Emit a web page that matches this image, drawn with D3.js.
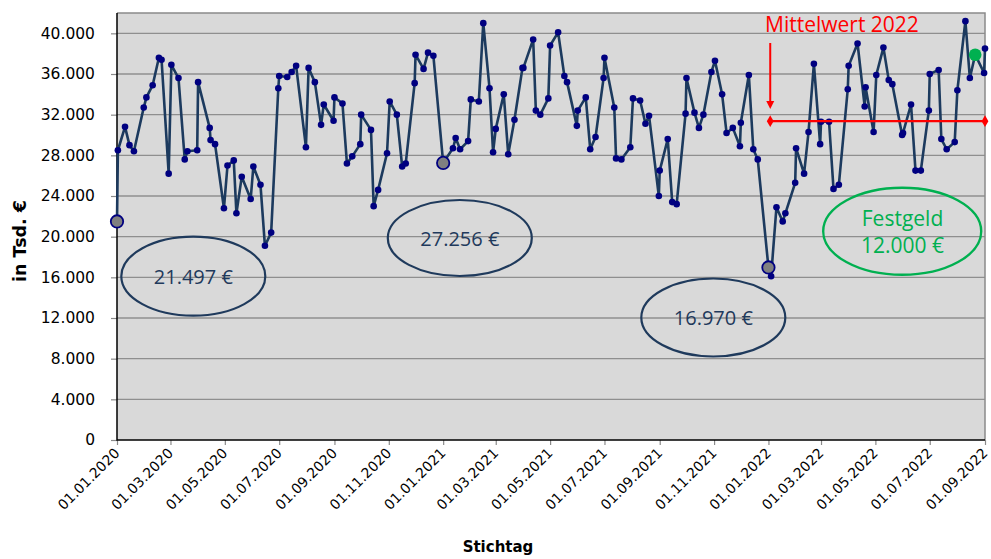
<!DOCTYPE html>
<html><head><meta charset="utf-8">
<script src="https://cdn.jsdelivr.net/npm/d3@7"></script>
<style>
body{margin:0;background:#fff;}
svg{display:block;}
</style></head>
<body><svg id="c" width="991" height="559"></svg>
<script>
const dates = ["2020-01-01","2020-01-02","2020-01-10","2020-01-15","2020-01-20","2020-01-31","2020-02-03","2020-02-10","2020-02-17","2020-02-20","2020-02-28","2020-03-02","2020-03-10","2020-03-17","2020-03-20","2020-03-31","2020-04-01","2020-04-14","2020-04-15","2020-04-20","2020-04-30","2020-05-04","2020-05-11","2020-05-14","2020-05-20","2020-05-30","2020-06-02","2020-06-10","2020-06-15","2020-06-22","2020-06-30","2020-07-01","2020-07-10","2020-07-15","2020-07-20","2020-07-31","2020-08-03","2020-08-10","2020-08-17","2020-08-20","2020-08-31","2020-09-01","2020-09-10","2020-09-15","2020-09-21","2020-09-30","2020-10-01","2020-10-12","2020-10-15","2020-10-20","2020-10-30","2020-11-02","2020-11-10","2020-11-16","2020-11-20","2020-11-30","2020-12-01","2020-12-10","2020-12-15","2020-12-21","2021-01-01","2021-01-12","2021-01-15","2021-01-20","2021-01-29","2021-02-01","2021-02-10","2021-02-15","2021-02-22","2021-02-26","2021-03-01","2021-03-10","2021-03-15","2021-03-22","2021-03-31","2021-04-01","2021-04-12","2021-04-15","2021-04-20","2021-04-29","2021-05-01","2021-05-10","2021-05-17","2021-05-20","2021-05-31","2021-06-01","2021-06-10","2021-06-15","2021-06-21","2021-06-30","2021-07-01","2021-07-12","2021-07-14","2021-07-20","2021-07-30","2021-08-02","2021-08-10","2021-08-16","2021-08-20","2021-08-31","2021-09-01","2021-09-10","2021-09-15","2021-09-20","2021-09-30","2021-10-01","2021-10-10","2021-10-15","2021-10-20","2021-10-29","2021-11-02","2021-11-10","2021-11-15","2021-11-22","2021-11-30","2021-12-01","2021-12-10","2021-12-15","2021-12-20","2022-01-01","2022-01-04","2022-01-10","2022-01-17","2022-01-20","2022-01-31","2022-02-01","2022-02-10","2022-02-15","2022-02-21","2022-02-28","2022-03-01","2022-03-10","2022-03-15","2022-03-21","2022-03-31","2022-04-01","2022-04-11","2022-04-19","2022-04-20","2022-04-29","2022-05-02","2022-05-10","2022-05-16","2022-05-20","2022-05-31","2022-06-01","2022-06-10","2022-06-15","2022-06-21","2022-06-30","2022-07-01","2022-07-11","2022-07-14","2022-07-20","2022-07-29","2022-08-01","2022-08-10","2022-08-15","2022-08-21","2022-08-31","2022-09-01"];

const values = [21497,28500,30800,29000,28400,32700,33700,34900,37600,37400,26200,36900,35600,27600,28400,28500,35200,30700,29500,29100,22800,27000,27500,22300,25900,23700,26900,25100,19100,20400,34600,35800,35700,36200,36800,28800,36600,35200,31000,33000,31400,33700,33100,27200,27900,29100,32000,30500,23000,24600,28200,33300,32000,26900,27200,35100,37900,36500,38100,37800,27256,28700,29700,28600,29400,33500,33300,41000,34600,28300,30600,34000,28100,31500,36600,36600,39400,32400,32000,33600,38800,40100,35800,35200,30900,32400,33700,28600,29800,35600,37600,32700,27700,27600,28800,33600,33400,31100,31900,24000,26500,29600,23400,23200,32100,35600,32200,30700,32000,36200,37300,34000,30200,30700,28900,31200,35900,28600,27600,16970,16100,22900,21500,22300,25300,28700,26200,30300,37000,29100,31300,31300,24700,25100,34500,36800,39000,32800,34700,30300,35900,38600,35400,35000,30000,30200,33000,26500,26500,32400,36000,36400,29600,28600,29300,34400,41200,35600,37900,36100,38500];

const xTickLabels = ["01.01.2020","01.03.2020","01.05.2020","01.07.2020","01.09.2020","01.11.2020","01.01.2021","01.03.2021","01.05.2021","01.07.2021","01.09.2021","01.11.2021","01.01.2022","01.03.2022","01.05.2022","01.07.2022","01.09.2022"];
const yTicks = [0,4000,8000,12000,16000,20000,24000,28000,32000,36000,40000];
const grayMarkerDates = ["2020-01-01","2021-01-01","2022-01-01"];
const greenMarkerDates = ["2022-08-21"];
const meanDates = ["2022-01-03","2022-09-01"];
const meanValue = 31360;
const bubbleTexts = ["21.497 €","27.256 €","16.970 €"];
const festgeldLines = ["Festgeld","12.000 €"];

const parse = d3.timeParse("%Y-%m-%d");
const parseDE = d3.timeParse("%d.%m.%Y");
const de = d3.formatLocale({decimal:",",thousands:".",grouping:[3],currency:["","€"]});
const fmt = de.format(",");

const data = dates.map((d,i)=>({date:parse(d), value:values[i]}));

const L=117, R=985, T=13, B=440;
const x = d3.scaleTime().domain([parse("2020-01-01"), parse("2022-09-01")]).range([L,R]);
const y = d3.scaleLinear().domain([0,42000]).range([B,T]);

const svg = d3.select("#c");
const navy = "#000080", lineC = "#1c3a5e";

// plot background
svg.append("rect").attr("x",L).attr("y",T).attr("width",R-L).attr("height",B-T).attr("fill","#d9d9d9");

// gridlines
svg.append("g").selectAll("line").data(yTicks.filter(v=>v>0)).join("line")
  .attr("x1",L).attr("x2",R).attr("y1",d=>y(d)).attr("y2",d=>y(d))
  .attr("stroke","#8f8f8f").attr("stroke-width",1.4);

// top/right border
svg.append("path").attr("d",`M${L},${T}H${R}V${B}`).attr("fill","none").attr("stroke","#8a8a8a").attr("stroke-width",1.5);

// y axis
const yAxis = d3.axisLeft(y).tickValues(yTicks).tickFormat(fmt).tickSize(6).tickPadding(16);
const gy = svg.append("g").attr("transform",`translate(${L},0)`).call(yAxis);
gy.select(".domain").remove();
gy.selectAll(".tick line").attr("stroke","#8a8a8a").attr("stroke-width",1.2);
gy.selectAll(".tick text").attr("font-family","DejaVu Sans").attr("font-size","15.5px").attr("fill","#000");

// x axis
const xTickDates = xTickLabels.map(s=>parseDE(s));
const xAxis = d3.axisBottom(x).tickValues(xTickDates).tickFormat(d3.timeFormat("%d.%m.%Y")).tickSize(5).tickPadding(0);
const gx = svg.append("g").attr("transform",`translate(0,${B})`).call(xAxis);
gx.select(".domain").remove();
gx.selectAll(".tick line").attr("stroke","#8a8a8a").attr("stroke-width",1.2);
gx.selectAll(".tick text").attr("font-family","DejaVu Sans").attr("font-size","14px").attr("fill","#000")
  .attr("text-anchor","end").attr("dy","0").attr("y",0)
  .attr("transform","translate(3,14) rotate(-45)");

// left & bottom axis lines
svg.append("path").attr("d",`M${L},${T}V${B}H${R}`).attr("fill","none").attr("stroke","#000").attr("stroke-width",1.5);

// axis titles
svg.append("text").attr("transform","translate(26,241) rotate(-90)").attr("text-anchor","middle")
  .attr("font-family","DejaVu Sans").attr("font-weight","bold").attr("font-size","17.5px").text("in Tsd. €");
svg.append("text").attr("x",498).attr("y",552).attr("text-anchor","middle")
  .attr("font-family","DejaVu Sans").attr("font-weight","bold").attr("font-size","15px").text("Stichtag");

// ellipses annotations
const ell = [
  {cx:193.3, cy:276.2, rx:72, ry:39.5},
  {cx:459.8, cy:238,   rx:72, ry:38},
  {cx:713.3, cy:317.5, rx:72, ry:39}
];
ell.forEach((e,i)=>{
  svg.append("ellipse").attr("cx",e.cx).attr("cy",e.cy).attr("rx",e.rx).attr("ry",e.ry)
    .attr("fill","none").attr("stroke","#1f3a5c").attr("stroke-width",2.2);
  svg.append("text").attr("x",e.cx).attr("y",e.cy+7.5).attr("text-anchor","middle")
    .attr("font-family","Open Sans").attr("font-size","20px").attr("fill","#1f3a5c").text(bubbleTexts[i]);
});
svg.append("ellipse").attr("cx",902.2).attr("cy",231.3).attr("rx",79).attr("ry",43.5)
  .attr("fill","none").attr("stroke","#00b050").attr("stroke-width",2.4);
svg.append("text").attr("x",902.5).attr("y",226).attr("text-anchor","middle")
  .attr("font-family","Open Sans").attr("font-size","21px").attr("fill","#00b050").text(festgeldLines[0]);
svg.append("text").attr("x",902.5).attr("y",253).attr("text-anchor","middle")
  .attr("font-family","Open Sans").attr("font-size","21px").attr("fill","#00b050").text(festgeldLines[1]);

// series line
const line = d3.line().x(d=>x(d.date)).y(d=>y(d.value));
svg.append("path").datum(data).attr("d",line).attr("fill","none").attr("stroke",lineC).attr("stroke-width",2.6).attr("stroke-linejoin","round");

// markers
svg.append("g").selectAll("circle").data(data).join("circle")
  .attr("cx",d=>x(d.date)).attr("cy",d=>y(d.value)).attr("r",3.3).attr("fill",navy);

const isoFmt = d3.timeFormat("%Y-%m-%d");
const grayData = data.filter(d=>grayMarkerDates.includes(isoFmt(d.date)));
svg.append("g").selectAll("circle").data(grayData).join("circle")
  .attr("cx",d=>x(d.date)).attr("cy",d=>y(d.value)).attr("r",6.2).attr("fill","#808080").attr("stroke",navy).attr("stroke-width",1.8);
const greenData = data.filter(d=>greenMarkerDates.includes(isoFmt(d.date)));
svg.append("g").selectAll("circle").data(greenData).join("circle")
  .attr("cx",d=>x(d.date)).attr("cy",d=>y(d.value)).attr("r",6.3).attr("fill","#00b050");

// mean line 2022
const mx0 = x(parse(meanDates[0])), mx1 = x(parse(meanDates[1])), my = y(meanValue);
svg.append("line").attr("x1",mx0).attr("x2",mx1).attr("y1",my).attr("y2",my).attr("stroke","#ff0000").attr("stroke-width",2.4);
[mx0,mx1].forEach(px=>{
  svg.append("path").attr("d",d3.symbol(d3.symbolDiamond,40)()).attr("transform",`translate(${px},${my})`).attr("fill","#ff0000");
});
// arrow
svg.append("line").attr("x1",mx0).attr("x2",mx0).attr("y1",43).attr("y2",102).attr("stroke","#ff0000").attr("stroke-width",2);
svg.append("path").attr("d",`M${mx0-4},${101}L${mx0+4},${101}L${mx0},${109}Z`).attr("fill","#ff0000");
svg.append("text").attr("x",765).attr("y",31.5).attr("font-family","Open Sans").attr("font-size","21px").attr("fill","#ff0000").text("Mittelwert 2022");
</script></body></html>
